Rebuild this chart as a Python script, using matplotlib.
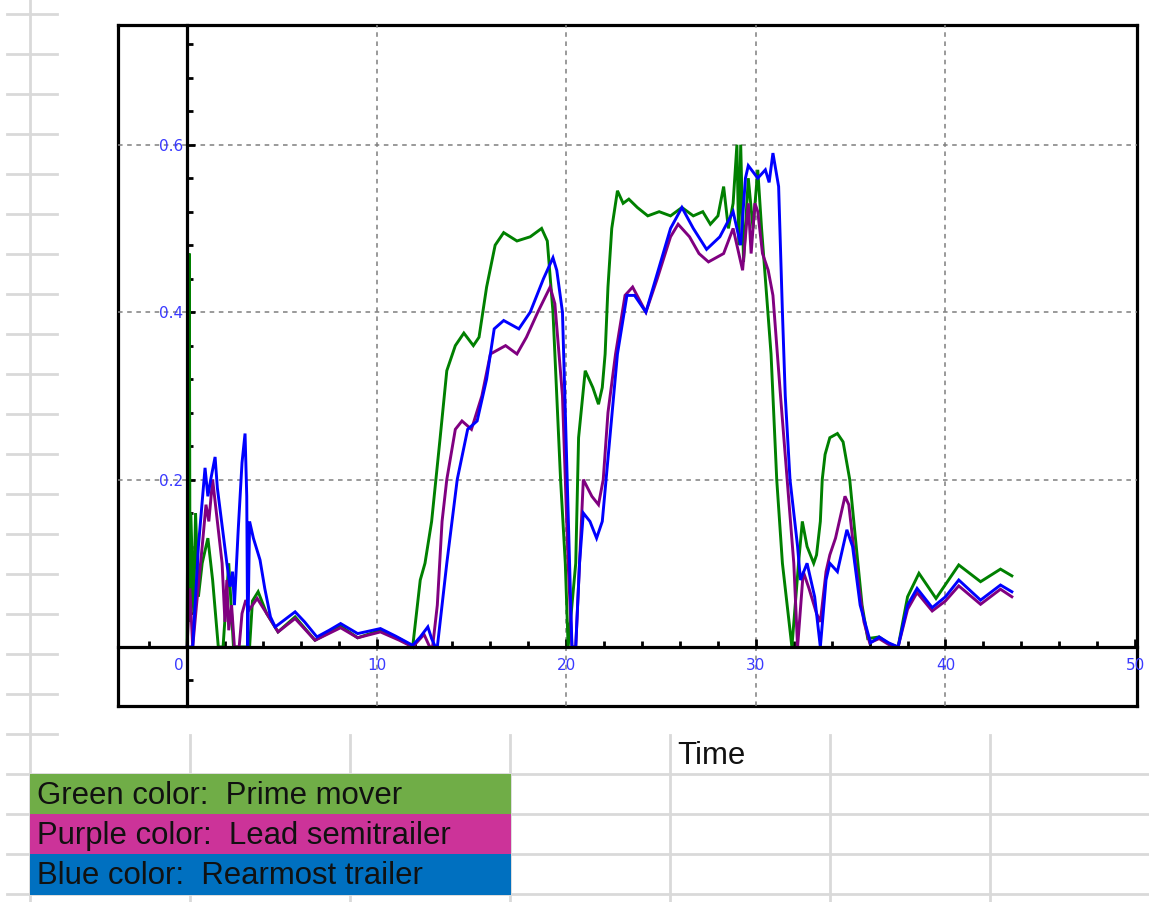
import matplotlib
matplotlib.use("Agg")
import matplotlib.pyplot as plt
import matplotlib.transforms as mtransforms
from matplotlib.patches import Rectangle
from matplotlib.ticker import MultipleLocator, FixedLocator

# values (time, articulation value)
green_t = [0.0, 0.12, 0.16, 0.2, 0.35, 0.45, 0.6, 0.8, 1.1, 1.35, 1.65, 1.9, 2.2, 2.45, 3.3,
           3.45, 3.75, 4.2, 4.8, 5.7, 6.75, 8.1, 9.0, 10.2, 11.2, 11.9, 12.15, 12.3, 12.55,
           12.9, 13.35, 13.7, 14.15, 14.6, 15.1, 15.4, 15.8, 16.25, 16.7, 17.4, 18.1, 18.7,
           19.0, 19.3, 19.5, 19.7, 19.95, 20.1, 20.5, 20.65, 21.0, 21.4, 21.7, 21.9, 22.05,
           22.2, 22.4, 22.7, 23.0, 23.3, 23.75, 24.3, 24.9, 25.5, 26.1, 26.7, 27.2, 27.6,
           28.0, 28.3, 28.55, 28.8, 29.0, 29.1, 29.2, 29.35, 29.6, 29.85, 30.1, 30.3, 30.5,
           30.8, 31.1, 31.4, 31.65, 31.9, 32.25, 32.45, 32.7, 33.05, 33.2, 33.4, 33.5, 33.65,
           33.9, 34.3, 34.6, 34.95, 35.25, 35.6, 35.9, 36.5, 37.0, 37.5, 38.0, 38.6, 39.5,
           40.7, 41.85, 42.9, 43.5]
green_y = [0.0, 0.47, 0.03, 0.16, 0.04, 0.16, 0.06, 0.1, 0.13, 0.08, 0.0, 0.0, 0.1, 0.0, 0.0,
           0.055, 0.066, 0.04, 0.018, 0.036, 0.008, 0.025, 0.011, 0.02, 0.01, 0.0, 0.05, 0.08, 0.1,
           0.15, 0.25, 0.33, 0.36, 0.375, 0.36, 0.37, 0.43, 0.48, 0.495, 0.485, 0.49, 0.5,
           0.485, 0.4, 0.3, 0.2, 0.1, 0.0, 0.1, 0.25, 0.33, 0.31, 0.29, 0.31, 0.35,
           0.43, 0.5, 0.545, 0.53, 0.535, 0.525, 0.515, 0.52, 0.515, 0.525, 0.515, 0.52, 0.505,
           0.515, 0.55, 0.5, 0.53, 0.6, 0.48, 0.6, 0.46, 0.56, 0.5, 0.57, 0.5, 0.44,
           0.35, 0.2, 0.1, 0.05, 0.0, 0.1, 0.15, 0.12, 0.1, 0.11, 0.15, 0.2, 0.23,
           0.25, 0.255, 0.245, 0.2, 0.13, 0.05, 0.01, 0.012, 0.004, 0.0, 0.06, 0.088, 0.058,
           0.098, 0.078, 0.093, 0.085]

purple_t = [0.0, 0.15, 0.3, 0.5, 0.8, 1.0, 1.15, 1.35, 1.5, 1.85, 2.0, 2.1, 2.2, 2.35, 2.5,
            2.75, 2.9, 3.1, 3.3, 3.7, 4.2, 4.8, 5.7, 6.75, 8.1, 9.0, 10.2, 11.2, 11.9, 12.5,
            12.8, 12.95, 13.2, 13.45, 13.7, 14.15, 14.5, 15.0, 15.55, 16.0, 16.8, 17.4, 17.9,
            18.5, 19.15, 19.4, 19.8, 20.1, 20.3, 20.5, 20.7, 20.9, 21.35, 21.7, 21.95, 22.2,
            22.6, 23.1, 23.5, 24.2, 24.8, 25.5, 25.9, 26.5, 27.0, 27.5, 28.3, 28.8, 29.1, 29.3,
            29.6, 29.75, 29.95, 30.1, 30.35, 30.65, 30.9, 31.3, 31.65, 32.0, 32.2, 32.5, 32.8,
            33.2, 33.4, 33.7, 33.9, 34.2, 34.7, 34.9, 35.25, 35.7, 36.0, 36.5, 37.0, 37.5,
            38.0, 38.5, 39.3, 40.0, 40.7, 41.85, 42.9, 43.5]
purple_y = [0.0, 0.07, 0.0, 0.05, 0.12, 0.17, 0.15, 0.2, 0.17, 0.1, 0.03, 0.08, 0.02, 0.05, 0.0,
            0.0, 0.04, 0.056, 0.045, 0.058, 0.04, 0.018, 0.034, 0.008, 0.023, 0.011, 0.018, 0.008, 0.0, 0.015,
            0.0, 0.0, 0.05, 0.15, 0.2, 0.26, 0.27, 0.26, 0.3, 0.35, 0.36, 0.35, 0.37,
            0.4, 0.43, 0.41, 0.3, 0.1, 0.0, 0.0, 0.1, 0.2, 0.18, 0.17, 0.2, 0.28,
            0.35, 0.42, 0.43, 0.4, 0.44, 0.49, 0.505, 0.49, 0.47, 0.46, 0.47, 0.5, 0.47, 0.45,
            0.53, 0.47, 0.53, 0.52, 0.47, 0.45, 0.42, 0.3, 0.2, 0.1, 0.0, 0.09, 0.07,
            0.04, 0.03, 0.09, 0.11, 0.13, 0.18, 0.17, 0.1, 0.03, 0.005, 0.01, 0.003, 0.0,
            0.045, 0.065, 0.043, 0.055, 0.073, 0.051, 0.069, 0.06]

blue_t = [0.0, 0.3, 0.6, 0.95, 1.1, 1.25, 1.48, 1.6, 1.9, 2.1, 2.27, 2.4, 2.5, 2.7, 2.9, 3.06,
          3.15, 3.2, 3.3, 3.5, 3.85, 4.1, 4.4, 4.65, 5.0, 5.7, 6.2, 6.85, 7.5, 8.1, 9.0, 10.2,
          11.0, 11.9, 12.3, 12.7, 12.9, 13.1, 13.2, 13.7, 14.25, 14.8, 15.3, 15.8, 16.2, 16.7,
          17.5, 18.1, 18.8, 19.3, 19.5, 19.8, 20.05, 20.3, 20.5, 20.7, 20.9, 21.25, 21.6, 21.9,
          22.3, 22.7, 23.2, 23.6, 24.2, 24.85, 25.5, 26.1, 26.7, 27.4, 28.1, 28.8, 29.2, 29.45,
          29.6, 30.1, 30.5, 30.7, 30.9, 31.2, 31.4, 31.55, 31.8, 32.2, 32.35, 32.7, 33.1, 33.4,
          33.7, 33.9, 34.3, 34.8, 35.1, 35.5, 36.05, 36.5, 37.0, 37.5, 38.0, 38.5, 39.3, 40.0,
          40.7, 41.85, 42.9, 43.5]
blue_y = [0.0, 0.0, 0.12, 0.214, 0.18, 0.2, 0.227, 0.19, 0.136, 0.1, 0.072, 0.09, 0.05, 0.14, 0.22, 0.255,
          0.18, 0.0, 0.15, 0.13, 0.104, 0.07, 0.036, 0.024, 0.03, 0.042, 0.03, 0.012, 0.02, 0.028, 0.016, 0.022,
          0.013, 0.002, 0.012, 0.024, 0.01, 0.0, 0.0, 0.1, 0.2, 0.26, 0.27, 0.32, 0.38, 0.39,
          0.38, 0.4, 0.44, 0.465, 0.45, 0.4, 0.2, 0.0, 0.0, 0.1, 0.16, 0.15, 0.13, 0.15,
          0.25, 0.35, 0.42, 0.42, 0.4, 0.45, 0.5, 0.525, 0.5, 0.475, 0.49, 0.52, 0.48, 0.56,
          0.575, 0.56, 0.57, 0.555, 0.59, 0.55, 0.4, 0.3, 0.2, 0.12, 0.08, 0.1, 0.06, 0.0,
          0.08, 0.1, 0.09, 0.14, 0.12, 0.05, 0.005, 0.012, 0.005, 0.0, 0.05, 0.07, 0.047, 0.06,
          0.08, 0.056, 0.074, 0.066]

x_major = [0, 10, 20, 30, 40, 50]
y_major = [0.2, 0.4, 0.6]

legend_labels = ["Green color:  Prime mover",
                 "Purple color:  Lead semitrailer",
                 "Blue color:  Rearmost trailer"]
legend_fills = ["#70ad47", "#cc3399", "#0070c0"]
line_colors = ["#008000", "#800080", "#0000ff"]

W, H = 1149, 902
fig = plt.figure(figsize=(W / 100, H / 100), dpi=100)

# spreadsheet behind the chart, drawn in pixel coordinates
bg = fig.add_axes([0, 0, 1, 1], zorder=0)
bg.set_xlim(0, W)
bg.set_ylim(H, 0)
bg.axis("off")
cell = "#d9d9d9"
bg.plot([30, 30], [0, H], color=cell, lw=2, zorder=1)
for yy in range(14, 735, 40):
    bg.plot([7, 57], [yy, yy], color=cell, lw=2, zorder=1)
for yy in [774, 814, 854, 894]:
    bg.plot([7, W], [yy, yy], color=cell, lw=2, zorder=1)
for xx in [190, 350, 510, 670, 830, 990]:
    bg.plot([xx, xx], [735, H], color=cell, lw=2, zorder=1)

for i, (lab, fc) in enumerate(zip(legend_labels, legend_fills)):
    bg.add_patch(Rectangle((30, 774 + 40 * i), 481, 41, facecolor=fc,
                           edgecolor="none", zorder=2))
    bg.text(37, 796 + 40 * i, lab, fontsize=22.4, family="Liberation Sans",
            va="center", ha="left", color="#111111", zorder=3)
bg.text(677, 756, "Time", fontsize=22.4, family="Liberation Sans",
        va="center", ha="left", color="#111111", zorder=3)

# chart frame
pos = [118 / W, 1 - 706 / H, (1137 - 118) / W, (706 - 25) / H]
frame = fig.add_axes(pos, zorder=1)
frame.set_xticks([])
frame.set_yticks([])
for s in frame.spines.values():
    s.set_linewidth(2.3)
    s.set_color("black")

ax = fig.add_axes(pos, zorder=2)
ax.set_facecolor("none")
ax.set_xlim(-3.64, 50.1)
ax.set_ylim(-0.0705, 0.743)
ax.spines["top"].set_visible(False)
ax.spines["right"].set_visible(False)
ax.spines["left"].set_position(("data", 0))
ax.spines["bottom"].set_position(("data", 0))
ax.spines["left"].set_linewidth(2.3)
ax.spines["bottom"].set_linewidth(2.3)

ax.xaxis.set_major_locator(FixedLocator(x_major))
ax.xaxis.set_minor_locator(MultipleLocator(2))
ax.yaxis.set_major_locator(FixedLocator(y_major))
ax.yaxis.set_minor_locator(MultipleLocator(0.04))
ax.set_xticklabels([str(v) for v in x_major])
ax.set_yticklabels([f"{v:.1f}" for v in y_major])
ax.tick_params(which="major", direction="in", length=6, width=2, color="black",
               labelcolor="#3a3aff", labelsize=11)
ax.tick_params(which="minor", direction="in", length=4, width=2, color="black")
ax.tick_params(axis="x", pad=8)
ax.tick_params(axis="y", pad=3)
ax.grid(True, which="major", color="#7f7f7f", ls=(0, (3, 3)), lw=1.1)

for t, y, c in zip([green_t, purple_t, blue_t], [green_y, purple_y, blue_y], line_colors):
    ax.plot(t, y, color=c, lw=2.1, solid_joinstyle="miter")

# no grid line on the axis itself nor at the right border
xticks = ax.xaxis.get_major_ticks()
xticks[0].gridline.set_visible(False)
xticks[-1].gridline.set_visible(False)

# the "0" label sits just left of the vertical axis
zero_lab = xticks[0].label1
zero_lab.set_transform(zero_lab.get_transform()
                       + mtransforms.ScaledTranslation(-8 / 100, 0, fig.dpi_scale_trans))

fig.savefig("out.png", dpi=100)
